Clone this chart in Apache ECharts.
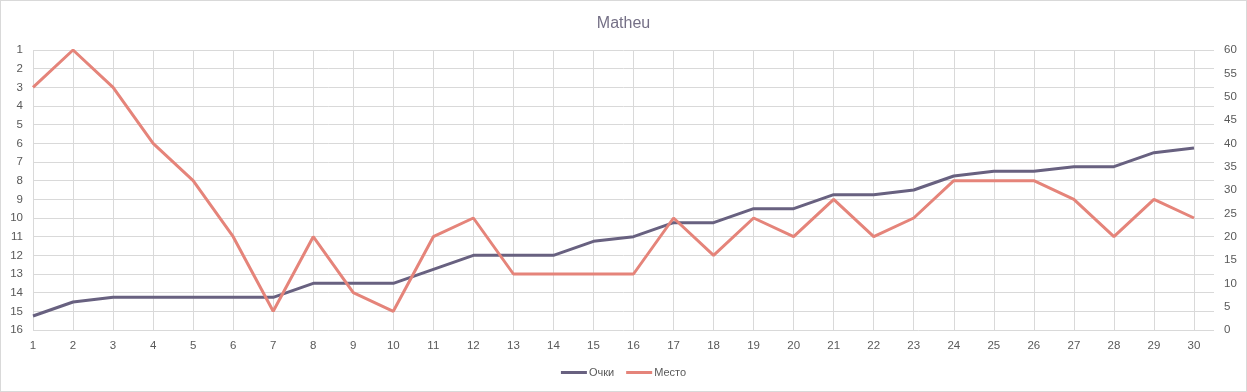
<!DOCTYPE html>
<html>
<head>
<meta charset="utf-8">
<script src="https://cdn.jsdelivr.net/npm/echarts@6/dist/echarts.min.js"></script>
<style>
  html, body { margin: 0; padding: 0; background: #fff; }
  #chart { width: 1245px; height: 390px; border: 1px solid #d9d9d9; }
</style>
</head>
<body>
<div id="chart"></div>
<script>
const rounds = [1,2,3,4,5,6,7,8,9,10,11,12,13,14,15,16,17,18,19,20,21,22,23,24,25,26,27,28,29,30];
const points = [3,6,7,7,7,7,7,10,10,10,13,16,16,16,19,20,23,23,26,26,29,29,30,33,34,34,35,35,38,39];
const places = [3,1,3,6,8,11,15,11,14,15,11,10,13,13,13,13,10,12,10,11,9,11,10,8,8,8,9,11,9,10];
const placeTicks = [1,16];
const pointTicks = [0,60];

const font = 'Liberation Sans, Noto Sans, sans-serif';
const chart = echarts.init(document.getElementById('chart'));
chart.setOption({
  animation: false,
  textStyle: { fontFamily: font },
  title: {
    text: 'Matheu', left: 'center', top: 10,
    textStyle: { color: '#757086', fontSize: 16, fontWeight: 'normal', fontFamily: font }
  },
  legend: {
    bottom: 8, left: 'center',
    itemWidth: 26, itemHeight: 3, itemGap: 12, icon: 'rect',
    textStyle: { color: '#595959', fontSize: 11, padding: [0, 0, 0, -3] },
    data: ['Очки', 'Место']
  },
  grid: { left: 32, right: 32, top: 49, bottom: 61 },
  xAxis: {
    type: 'value', min: rounds[0], max: rounds[rounds.length - 1] + 0.5, interval: 1,
    axisLine: { show: false }, axisTick: { show: false },
    axisLabel: {
      color: '#595959', fontSize: 11.5, margin: 10, showMaxLabel: false,
      formatter: v => Number.isInteger(v) ? String(v) : ''
    },
    splitLine: { show: true, showMaxLine: false, lineStyle: { color: '#d9d9d9', width: 1 } }
  },
  yAxis: [
    {
      type: 'value', inverse: true, min: placeTicks[0], max: placeTicks[1], interval: 1,
      axisLine: { show: false }, axisTick: { show: false },
      axisLabel: { color: '#595959', fontSize: 11.5, margin: 10 },
      splitLine: { show: true, lineStyle: { color: '#d9d9d9', width: 1 } }
    },
    {
      type: 'value', min: pointTicks[0], max: pointTicks[1], interval: 5,
      axisLine: { show: false }, axisTick: { show: false },
      axisLabel: { color: '#595959', fontSize: 11.5, margin: 10 },
      splitLine: { show: false }
    }
  ],
  series: [
    {
      name: 'Очки', type: 'line', yAxisIndex: 1, symbol: 'none',
      lineStyle: { color: '#686180', width: 3 }, itemStyle: { color: '#686180' },
      data: rounds.map((r, i) => [r, points[i]])
    },
    {
      name: 'Место', type: 'line', yAxisIndex: 0, symbol: 'none',
      lineStyle: { color: '#E5847A', width: 3 }, itemStyle: { color: '#E5847A' },
      data: rounds.map((r, i) => [r, places[i]])
    }
  ]
});
</script>
</body>
</html>
